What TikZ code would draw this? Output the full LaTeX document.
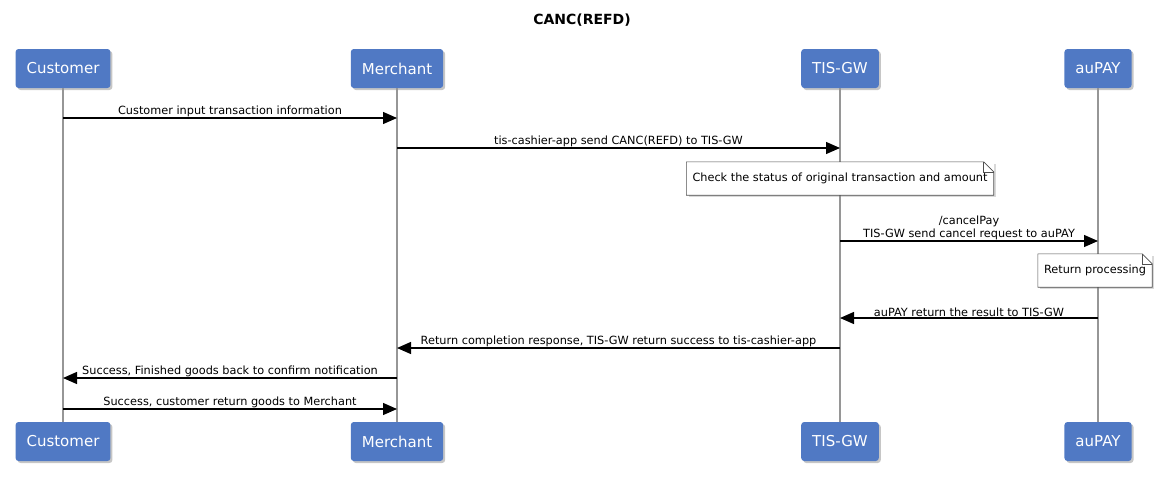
\documentclass[tikz,border=0pt]{standalone}
\usepackage{fontspec}
\setmainfont{DejaVu Sans}
\usetikzlibrary{calc, positioning, arrows.meta, shadows}
\definecolor{partblue}{RGB}{80,121,196}
\definecolor{lifegray}{RGB}{150,150,150}
\definecolor{notegray}{RGB}{80,80,80}
\newcommand\notefold[1]{%
    \draw[noteline] (#1.north west) -- ([xshift=-10pt]#1.north east) -- ([yshift=-10pt]#1.north east) -- (#1.south east) -- (#1.south west) -- cycle;
    \draw[noteline] ([xshift=-10pt]#1.north east) -- ([xshift=-10pt, yshift=-10pt]#1.north east) -- ([yshift=-10pt]#1.north east);
}
\tikzset{
    participant/.style={rectangle, rounded corners=3pt, fill=partblue, text=white, font=\fontsize{15}{17}\selectfont, inner xsep=11pt, minimum height=39pt, drop shadow={shadow xshift=2pt, shadow yshift=-2pt, opacity=0.45}},
    lifeline/.style={draw=lifegray, line width=1.3pt},
    msg/.style={-{Triangle[length=14pt, width=12pt]}, line width=1.3pt},
    msglabel/.style={midway, above, inner sep=1pt, font=\fontsize{11.3}{13}\selectfont, align=center},
    note/.style={rectangle, fill=white, inner xsep=6pt, minimum height=33pt, font=\fontsize{11.3}{13}\selectfont, drop shadow={shadow xshift=2pt, shadow yshift=-2pt, opacity=0.3}},
    noteline/.style={draw=notegray, line width=0.6pt},
    title/.style={font=\bfseries\fontsize{14}{16}\selectfont}
}
\begin{document}
\begin{tikzpicture}[x=1pt, y=-1pt]
    \useasboundingbox (0,0) rectangle (1165,485);

    % Title
    \node[title] (ttl) at (582,20) {CANC(REFD)};

    % Participants, top and bottom
    \node[participant] (cust) at (63,68.5) {Customer};
    \node[participant] (merch) at (397,68.5) {Merchant};
    \node[participant] (tisgw) at (840,68.5) {TIS-GW};
    \node[participant] (aupay) at (1098,68.5) {auPAY};
    \node[participant] (custB) at (63,441.5) {Customer};
    \node[participant] (merchB) at (397,441.5) {Merchant};
    \node[participant] (tisgwB) at (840,441.5) {TIS-GW};
    \node[participant] (aupayB) at (1098,441.5) {auPAY};

    % Lifelines
    \foreach \p in {cust, merch, tisgw, aupay}
        \draw[lifeline] (\p) -- (\p B);

    % Rows
    \coordinate (r1) at (0,118);
    \coordinate (r2) at (0,148);
    \coordinate (n1) at (0,178.5);
    \coordinate (r3) at (0,241);
    \coordinate (n2) at (1095,270.5);
    \coordinate (r4) at (0,318);
    \coordinate (r5) at (0,348);
    \coordinate (r6) at (0,378);
    \coordinate (r7) at (0,409);

    % Messages
    \draw[msg] (cust |- r1) -- node[msglabel] {Customer input transaction information} (merch |- r1);
    \draw[msg] (merch |- r2) -- node[msglabel] {tis-cashier-app send CANC(REFD) to TIS-GW} (tisgw |- r2);

    \node[note] (chk) at (tisgw |- n1) {Check the status of original transaction and amount};
    \notefold{chk}

    \draw[msg] (tisgw |- r3) -- node[msglabel] {/cancelPay\\TIS-GW send cancel request to auPAY} (aupay |- r3);

    \node[note] (proc) at (n2) {Return processing};
    \notefold{proc}

    \draw[msg] (aupay |- r4) -- node[msglabel] {auPAY return the result to TIS-GW} (tisgw |- r4);
    \draw[msg] (tisgw |- r5) -- node[msglabel] {Return completion response, TIS-GW return success to tis-cashier-app} (merch |- r5);
    \draw[msg] (merch |- r6) -- node[msglabel] {Success, Finished goods back to confirm notification} (cust |- r6);
    \draw[msg] (cust |- r7) -- node[msglabel] {Success, customer return goods to Merchant} (merch |- r7);
\end{tikzpicture}
\end{document}
